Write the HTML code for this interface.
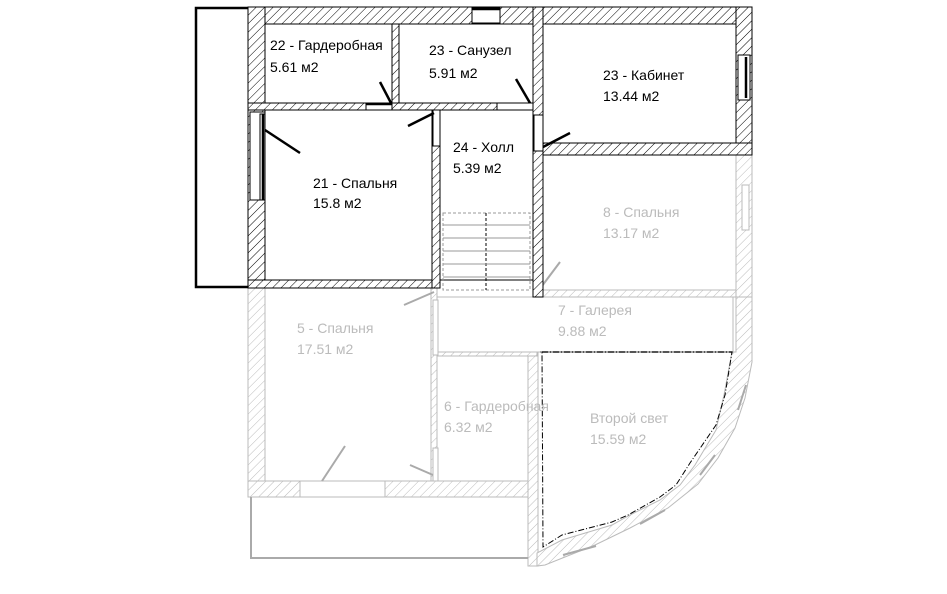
<!DOCTYPE html>
<html><head><meta charset="utf-8"><style>
html,body{margin:0;padding:0;background:#fff;width:947px;height:594px;overflow:hidden}
svg{display:block}
text{font-family:"Liberation Sans",sans-serif;font-size:14px}
</style></head><body>
<svg width="947" height="594" viewBox="0 0 947 594" xmlns="http://www.w3.org/2000/svg">
<defs>
<pattern id="hb" patternUnits="userSpaceOnUse" width="6" height="6" patternTransform="rotate(45)">
<rect width="6" height="6" fill="#fff"/><line x1="0" y1="0" x2="0" y2="6" stroke="#000" stroke-width="1"/></pattern>
<pattern id="hg" patternUnits="userSpaceOnUse" width="6" height="6" patternTransform="rotate(45)">
<rect width="6" height="6" fill="#fff"/><line x1="0" y1="0" x2="0" y2="6" stroke="#bbb" stroke-width="1"/></pattern>
</defs>

<!-- grey lower floor -->
<g stroke="#bbb" stroke-width="1">
<rect x="248" y="288" width="17" height="209" fill="url(#hg)"/>
<rect x="248" y="481" width="289" height="16" fill="url(#hg)"/>
<rect x="528" y="350" width="10" height="216" fill="url(#hg)"/>
<rect x="431" y="288" width="6" height="193" fill="url(#hg)"/>
<rect x="437" y="350" width="100" height="6" fill="url(#hg)"/>
<rect x="533" y="290" width="219" height="7" fill="url(#hg)"/>
<rect x="736" y="155" width="16" height="142" fill="url(#hg)"/>
<path d="M736,297 L752,297 L752,362 L745,398 L735,428 L718,458 L698,484 L668,508 L630,528 L595,545 L545,565 L537,566 L537,553 L562,540 L612,525 L630,515 L660,500 L680,485 L695,465 L716,430 L724,395 L732,352 L736,352 Z" fill="url(#hg)"/>
<rect x="437" y="297" width="296" height="55" fill="#fff"/>
<rect x="437" y="356" width="91" height="125" fill="#fff"/>
<rect x="300" y="481" width="85" height="16" fill="#fff"/>
<rect x="433" y="300" width="5" height="55" fill="#fff"/>
<rect x="433" y="448" width="5" height="33" fill="#fff"/>
<rect x="742" y="185" width="7" height="45" fill="#fff"/>
</g>
<g stroke="#aaa" stroke-width="2" fill="none">
<polyline points="251,497 251,558 528,558"/>
<line x1="540" y1="352" x2="733" y2="352"/>
<line x1="322" y1="481" x2="345" y2="446"/>
<line x1="433" y1="475" x2="410" y2="465"/>
<line x1="434" y1="292" x2="404" y2="305"/>
<line x1="539" y1="290" x2="560" y2="262"/>
<line x1="563" y1="555" x2="596" y2="546"/>
<line x1="640" y1="524" x2="665" y2="510"/>
<line x1="700" y1="475" x2="715" y2="455"/>
<line x1="738" y1="410" x2="746" y2="385"/>
</g>
<polyline points="542,352 732,352 725,395 716,425 690,463 676,485 660,497 628,515 612,522 562,535 543,547 542,352" fill="none" stroke="#000" stroke-width="1" stroke-dasharray="6,2,1,2"/>

<!-- black current floor -->
<g stroke="#000" stroke-width="1">
<rect x="248" y="7" width="504" height="17" fill="url(#hb)"/>
<rect x="248" y="7" width="17" height="281" fill="url(#hb)"/>
<rect x="736" y="7" width="16" height="148" fill="url(#hb)"/>
<rect x="533" y="143" width="219" height="12" fill="url(#hb)"/>
<rect x="533" y="7" width="10" height="290" fill="url(#hb)"/>
<rect x="392" y="24" width="7" height="86" fill="url(#hb)"/>
<rect x="248" y="103" width="285" height="7" fill="url(#hb)"/>
<rect x="248" y="280" width="192" height="8" fill="url(#hb)"/>
<rect x="432" y="110" width="8" height="178" fill="url(#hb)"/>
<rect x="265" y="24" width="127" height="79" fill="#fff"/>
<rect x="399" y="24" width="134" height="79" fill="#fff"/>
<rect x="543" y="24" width="193" height="119" fill="#fff"/>
<rect x="265" y="110" width="167" height="170" fill="#fff"/>
<rect x="440" y="110" width="93" height="170" fill="#fff"/>
<rect x="250" y="112" width="15" height="88" fill="#fff"/>
<rect x="260" y="114" width="5" height="86" fill="#fff"/>
<rect x="472" y="8" width="28" height="15" fill="#fff"/>
<rect x="738" y="55" width="12" height="45" fill="#fff"/>
<rect x="366" y="103" width="26" height="7" fill="#fff"/>
<rect x="497" y="103" width="36" height="7" fill="#fff"/>
<rect x="433" y="110" width="7" height="36" fill="#fff"/>
<rect x="534" y="115" width="9" height="36" fill="#fff"/>
</g>
<g stroke="#000" stroke-width="2.5" fill="none">
<polyline points="248,8 196,8 196,287 248,287"/>
<line x1="472" y1="9" x2="500" y2="9"/>
<line x1="366" y1="104" x2="392" y2="104"/>
<line x1="263" y1="114" x2="263" y2="200"/>
<line x1="746" y1="57" x2="746" y2="98"/>
<line x1="391" y1="103" x2="380" y2="82"/>
<line x1="530" y1="103" x2="516" y2="79"/>
<line x1="434" y1="113" x2="408" y2="126"/>
<line x1="265" y1="130" x2="300" y2="153"/>
<line x1="543" y1="147" x2="570" y2="133"/>
</g>
<!-- stairs -->
<g stroke="#999" stroke-width="1" fill="none">
<rect x="443" y="213" width="87" height="77" stroke-dasharray="3,2"/>
<line x1="486" y1="213" x2="486" y2="290" stroke="#000" stroke-dasharray="3,2"/>
<line x1="443" y1="225" x2="530" y2="225"/><line x1="443" y1="238" x2="530" y2="238"/>
<line x1="443" y1="251" x2="530" y2="251"/><line x1="443" y1="264" x2="530" y2="264"/>
<line x1="443" y1="277" x2="530" y2="277"/>
</g>

<g fill="#000">
<text x="270" y="50">22 - Гардеробная</text><text x="270" y="72">5.61 м2</text>
<text x="429" y="55">23 - Санузел</text><text x="429" y="78">5.91 м2</text>
<text x="603" y="80">23 - Кабинет</text><text x="603" y="101">13.44 м2</text>
<text x="453" y="152">24 - Холл</text><text x="453" y="173">5.39 м2</text>
<text x="313" y="188">21 - Спальня</text><text x="313" y="208">15.8 м2</text>
</g>
<g fill="#bbb">
<text x="603" y="217">8 - Спальня</text><text x="603" y="238">13.17 м2</text>
<text x="558" y="315">7 - Галерея</text><text x="558" y="336">9.88 м2</text>
<text x="297" y="333">5 - Спальня</text><text x="297" y="354">17.51 м2</text>
<text x="444" y="411">6 - Гардеробная</text><text x="444" y="432">6.32 м2</text>
<text x="590" y="423">Второй свет</text><text x="590" y="444">15.59 м2</text>
</g>
</svg>
</body></html>
